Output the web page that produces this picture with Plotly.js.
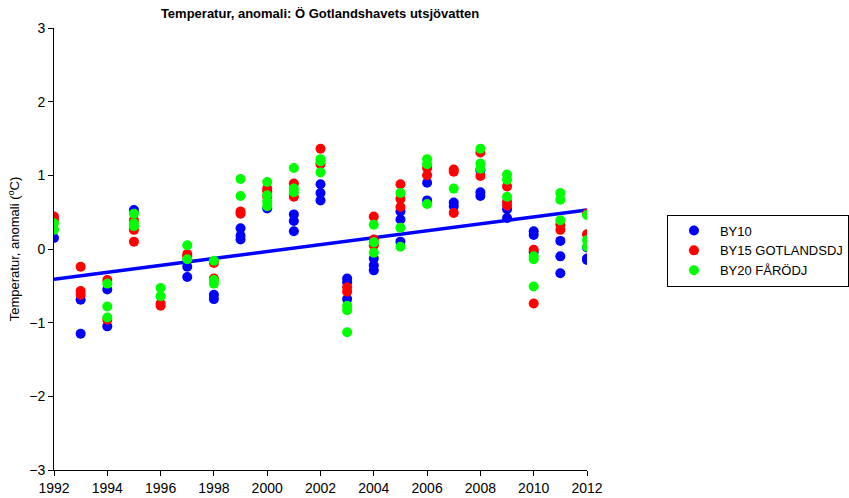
<!DOCTYPE html>
<html>
<head>
<meta charset="utf-8">
<script src="https://cdn.plot.ly/plotly-3.0.1.min.js"></script>
<style>html,body{margin:0;padding:0;background:#fff;}#chart{width:849px;height:498px;}</style>
</head>
<body>
<div id="chart"></div>
<script>
// BY10
const by10Years = [1992,1993,1993,1994,1994,1995,1997,1997,1998,1998,1999,1999,1999,2000,2001,2001,2001,2002,2002,2002,2003,2003,2003,2004,2004,2004,2005,2005,2005,2006,2006,2007,2007,2008,2008,2008,2009,2009,2010,2010,2010,2011,2011,2011,2012,2012,2012];
const by10Vals  = [0.15,-0.69,-1.15,-0.55,-1.05,0.53,-0.24,-0.38,-0.62,-0.68,0.28,0.18,0.13,0.55,0.47,0.38,0.24,0.88,0.76,0.66,-0.40,-0.45,-0.68,-0.13,-0.22,-0.29,0.51,0.40,0.10,0.90,0.66,0.63,0.58,1.07,0.77,0.72,0.54,0.42,0.24,0.19,-0.04,0.11,-0.10,-0.33,0.02,-0.13,-0.15];
// BY15 GOTLANDSDJ
const by15Years = [1992,1992,1993,1993,1993,1994,1994,1995,1995,1995,1996,1996,1997,1997,1998,1998,1999,1999,2000,2000,2000,2001,2001,2002,2002,2003,2003,2004,2004,2004,2005,2005,2005,2006,2006,2007,2007,2007,2008,2008,2009,2009,2009,2010,2010,2011,2011,2012,2012];
const by15Vals  = [0.44,0.40,-0.24,-0.57,-0.62,-0.42,-0.96,0.39,0.26,0.10,-0.74,-0.77,-0.07,-0.10,-0.19,-0.40,0.51,0.48,0.82,0.78,0.71,0.89,0.71,1.36,1.15,-0.52,-0.58,0.44,0.13,0.05,0.88,0.68,0.57,1.10,1.00,1.08,1.05,0.49,1.31,0.99,0.85,0.64,0.59,-0.01,-0.74,0.33,0.26,0.48,0.20];
// BY20 FÅRÖDJ
const by20Years = [1992,1992,1994,1994,1994,1995,1995,1995,1996,1996,1997,1997,1998,1998,1998,1999,1999,2000,2000,2000,2000,2001,2001,2001,2002,2002,2002,2003,2003,2003,2004,2004,2004,2005,2005,2005,2006,2006,2006,2007,2008,2008,2008,2009,2009,2009,2010,2010,2010,2011,2011,2011,2012,2012,2012];
const by20Vals  = [0.35,0.26,-0.47,-0.78,-0.93,0.48,0.35,0.31,-0.53,-0.64,0.05,-0.14,-0.16,-0.42,-0.47,0.95,0.72,0.91,0.73,0.64,0.58,1.10,0.82,0.77,1.22,1.19,1.04,-0.77,-0.83,-1.13,0.33,0.09,-0.05,0.76,0.29,0.03,1.22,1.15,0.61,0.82,1.36,1.16,1.09,1.01,0.94,0.71,-0.10,-0.14,-0.51,0.76,0.67,0.39,0.46,0.12,0.03];

// trend line (linear trend) at its end years
const trendYears = [1992, 2012];
const trendVals  = [-0.41, 0.53];

const seriesNames = ['BY10','BY15 GOTLANDSDJ','BY20 FÅRÖDJ'];
const seriesColors = ['#0000ff','#ff0000','#00ff00'];
const xTicks = [1992,1994,1996,1998,2000,2002,2004,2006,2008,2010,2012];
const yTicks = [-3,-2,-1,0,1,2,3];

const mk = (x,y,i) => ({x:x, y:y, type:'scatter', mode:'markers', name:seriesNames[i],
  marker:{color:seriesColors[i], size:10, line:{width:0}}});

const data = [
  {x:trendYears, y:trendVals, type:'scatter', mode:'lines', line:{color:'#0000ff', width:3.5}, showlegend:false, hoverinfo:'skip'},
  mk(by10Years, by10Vals, 0),
  mk(by15Years, by15Vals, 1),
  mk(by20Years, by20Vals, 2)
];

const layout = {
  width:849, height:498,
  margin:{l:54, r:262, t:28, b:28, autoexpand:false},
  paper_bgcolor:'#fff', plot_bgcolor:'#fff',
  font:{family:'"Liberation Sans", Arial, sans-serif', size:13, color:'#000'},
  title:{text:'<b>Temperatur, anomali: Ö Gotlandshavets utsjövatten</b>', x:0.377, xanchor:'center', y:0.972, yanchor:'middle', font:{size:13}},
  xaxis:{range:[1992,2012], tickvals:xTicks, ticktext:xTicks.map(String), showgrid:false, zeroline:false,
    showline:true, linecolor:'#000', linewidth:1, ticks:'outside', ticklen:5, tickcolor:'#000', tickfont:{size:14}},
  yaxis:{range:[-3,3], tickvals:yTicks, ticktext:yTicks.map(v=>v<0?'\u2212'+Math.abs(v):String(v)), showgrid:false, zeroline:false,
    showline:true, linecolor:'#000', linewidth:1, ticks:'outside', ticklen:5, tickcolor:'#000', tickfont:{size:14},
    title:{text:'Temperatur, anomali (<sup>o</sup>C)', font:{size:13}, standoff:6}},
  legend:{x:1.15, y:0.578, xanchor:'left', yanchor:'top', bordercolor:'#000', borderwidth:1, bgcolor:'#fff',
    font:{size:13}, itemwidth:42, tracegroupgap:0},
  showlegend:true
};

Plotly.newPlot('chart', data, layout, {displayModeBar:false, staticPlot:true});
</script>
</body>
</html>
